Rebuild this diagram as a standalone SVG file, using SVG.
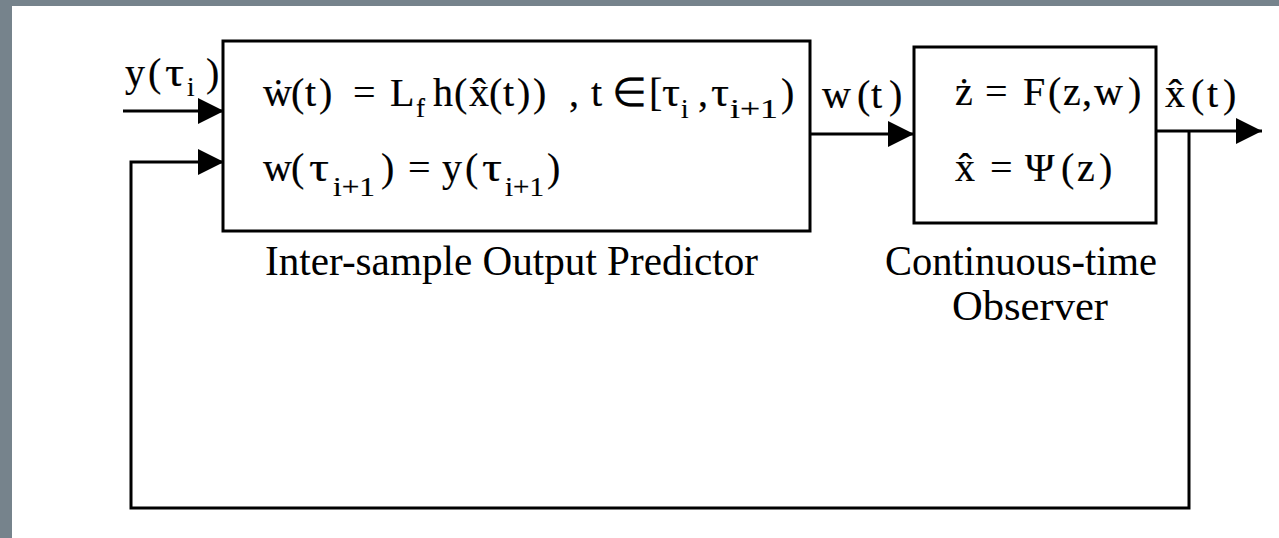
<svg xmlns="http://www.w3.org/2000/svg" width="1279" height="538" viewBox="0 0 1279 538">
<defs>
<style>
.box{fill:#fff;stroke:#000;stroke-width:3}
.wire{fill:none;stroke:#000;stroke-width:3}
.eq{font-family:"Liberation Serif","Times New Roman",serif;font-size:40px;fill:#000;stroke:#000;stroke-width:0.2}
.sub{font-family:"Liberation Serif","Times New Roman",serif;font-size:27px;fill:#000;stroke:#000;stroke-width:0.2}
.lbl{font-family:"Liberation Serif","Times New Roman",serif;font-size:43px;fill:#000}
</style>
<marker id="ah" markerUnits="userSpaceOnUse" viewBox="0 0 26 26" markerWidth="26" markerHeight="26" refX="26" refY="13" orient="auto">
<path d="M0,0 L26,13 L0,26 z" fill="#000"/>
</marker>
</defs>
<rect x="0" y="0" width="1279" height="538" fill="#fff"/>
<rect x="0" y="0" width="1279" height="6" fill="#76838c"/>
<rect x="0" y="0" width="12" height="538" fill="#76838c"/>

<g id="connectors">
<path class="wire" d="M123,111 L224,111" marker-end="url(#ah)"/>
<path class="wire" d="M1189,131 L1189,508 L131,508 L131,162 L224,162" marker-end="url(#ah)"/>
<path class="wire" d="M810,134 L914,134" marker-end="url(#ah)"/>
<path class="wire" d="M1156,131 L1262,131" marker-end="url(#ah)"/>
<text class="eq"><tspan x="125" y="86">y</tspan><tspan x="148" y="86">(</tspan><tspan x="206" y="86">)</tspan></text>
<text class="eq" x="165" y="86" textLength="19" lengthAdjust="spacingAndGlyphs">τ</text>
<text class="sub" x="187" y="96">i</text>
<text class="eq"><tspan x="822" y="108">w</tspan><tspan x="857" y="108">(</tspan><tspan x="871" y="108">t</tspan><tspan x="889" y="108">)</tspan></text>
<text class="eq"><tspan x="1165" y="107">x̂</tspan><tspan x="1191" y="107">(</tspan><tspan x="1207" y="107">t</tspan><tspan x="1223" y="107">)</tspan></text>
</g>

<g id="predictor">
<rect class="box" x="223" y="41" width="587" height="190"/>
<text class="eq"><tspan x="263" y="106">ẇ</tspan><tspan x="291" y="106">(</tspan><tspan x="305" y="106">t</tspan><tspan x="319" y="106">)</tspan><tspan x="353" y="106">=</tspan><tspan x="390" y="106">L</tspan><tspan x="433" y="106">h</tspan><tspan x="454" y="106">(</tspan><tspan x="469" y="106">x̂</tspan><tspan x="489" y="106">(</tspan><tspan x="503" y="106">t</tspan><tspan x="517" y="106">)</tspan><tspan x="533" y="106">)</tspan><tspan x="569" y="106">,</tspan><tspan x="591" y="106">t</tspan><tspan x="612" y="106">∈</tspan><tspan x="649" y="106">[</tspan><tspan x="698" y="106">,</tspan><tspan x="781" y="106">)</tspan></text>
<text class="eq" x="662" y="106" textLength="18" lengthAdjust="spacingAndGlyphs">τ</text>
<text class="eq" x="711" y="106" textLength="18" lengthAdjust="spacingAndGlyphs">τ</text>
<text class="sub" x="416" y="117">f</text>
<text class="sub" x="681" y="118">i</text>
<text class="sub" x="730" y="118" textLength="48" lengthAdjust="spacingAndGlyphs">i+1</text>
<text class="eq"><tspan x="263" y="181">w</tspan><tspan x="291" y="181">(</tspan><tspan x="381" y="181">)</tspan><tspan x="408" y="181">=</tspan><tspan x="442" y="181">y</tspan><tspan x="465" y="181">(</tspan><tspan x="547" y="181">)</tspan></text>
<text class="eq" x="309" y="181" textLength="20" lengthAdjust="spacingAndGlyphs">τ</text>
<text class="eq" x="482" y="181" textLength="20" lengthAdjust="spacingAndGlyphs">τ</text>
<text class="sub" x="333" y="196" textLength="42" lengthAdjust="spacingAndGlyphs">i+1</text>
<text class="sub" x="505" y="196" textLength="39" lengthAdjust="spacingAndGlyphs">i+1</text>
<text class="lbl" x="265" y="275" textLength="493" lengthAdjust="spacingAndGlyphs">Inter-sample Output Predictor</text>
</g>

<g id="observer">
<rect class="box" x="914" y="47" width="242" height="176"/>
<text class="eq"><tspan x="955" y="105">ż</tspan><tspan x="985" y="105">=</tspan><tspan x="1023" y="105">F</tspan><tspan x="1048" y="105">(</tspan><tspan x="1063" y="105">z</tspan><tspan x="1082" y="105">,</tspan><tspan x="1094" y="105">w</tspan><tspan x="1128" y="105">)</tspan></text>
<text class="eq"><tspan x="955" y="181">x̂</tspan><tspan x="990" y="181">=</tspan><tspan x="1025" y="181">Ψ</tspan><tspan x="1061" y="181">(</tspan><tspan x="1077" y="181">z</tspan><tspan x="1099" y="181">)</tspan></text>
<text class="lbl" x="885" y="275" textLength="272" lengthAdjust="spacingAndGlyphs">Continuous-time</text>
<text class="lbl" x="952" y="320" textLength="156" lengthAdjust="spacingAndGlyphs">Observer</text>
</g>
</svg>
